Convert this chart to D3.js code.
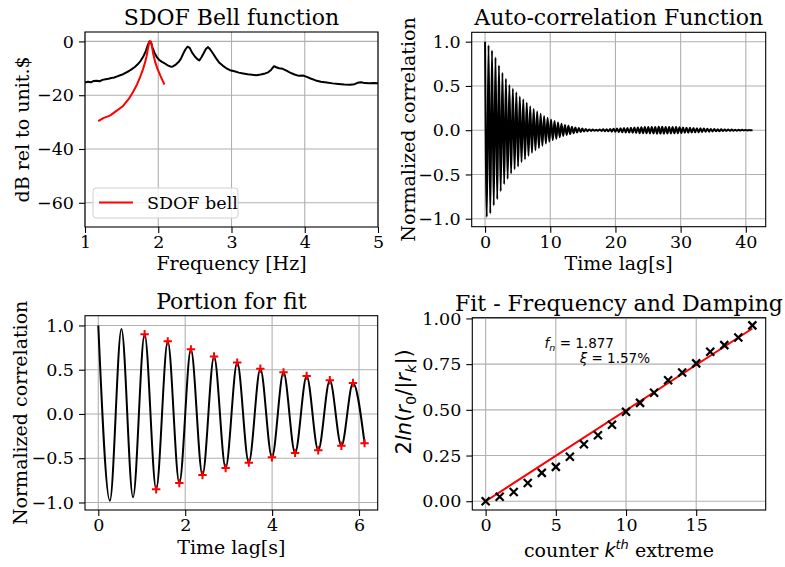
<!DOCTYPE html>
<html lang="en">
<head>
<meta charset="utf-8">
<title>SDOF bell / auto-correlation damping fit</title>
<script src="https://d3js.org/d3.v7.min.js"></script>
<style>
  body { margin: 0; background: #fff; }
  svg text { font-family: "DejaVu Serif", serif; fill: #000; }
  .tick line { stroke: #000; stroke-width: 1.1; }
  .tick text { font-size: 17.5px; }
  .grid line { stroke: #b0b0b0; stroke-width: 1.1; }
  .frame { fill: none; stroke: #000; stroke-width: 1.1; }
  .title { font-size: 22px; }
  .label { font-size: 19px; }
</style>
</head>
<body>
<svg></svg>
<script>

// ---- data ----

// SDOF bell panel: measured spectrum (black) and fitted bell (red)
var specFreq = [1.00, 1.04, 1.08, 1.12, 1.16, 1.20, 1.24, 1.28, 1.32, 1.36, 1.40, 1.44, 1.48, 1.52, 1.56,
  1.60, 1.64, 1.68, 1.72, 1.76, 1.80, 1.83, 1.86, 1.88, 1.90, 1.92, 1.95, 1.98, 2.01, 2.05, 2.09, 2.13,
  2.17, 2.20, 2.24, 2.28, 2.31, 2.34, 2.37, 2.40, 2.43, 2.46, 2.50, 2.53, 2.56, 2.59, 2.62, 2.65, 2.68,
  2.71, 2.75, 2.79, 2.83, 2.88, 2.93, 2.98, 3.04, 3.10, 3.16, 3.22, 3.28, 3.34, 3.40, 3.46, 3.50, 3.54,
  3.58, 3.61, 3.65, 3.70, 3.75, 3.80, 3.86, 3.92, 3.98, 4.02, 4.08, 4.15, 4.22, 4.30, 4.38, 4.46, 4.54,
  4.62, 4.68, 4.72, 4.77, 4.82, 4.88, 4.94, 5.00];
var specDb = [-15.3, -15.0, -15.2, -14.7, -14.6, -14.8, -14.3, -14.1, -13.9, -13.6, -13.4, -13.0, -12.6, -12.2, -11.6,
  -11.0, -10.3, -9.5, -8.5, -7.2, -5.4, -3.6, -1.2, 0.0, -0.3, -2.2, -4.3, -5.8, -6.8, -7.6, -8.2, -8.9,
  -9.4, -9.3, -8.6, -7.6, -6.4, -4.6, -3.0, -1.9, -2.4, -4.1, -5.6, -6.5, -7.1, -5.9, -4.4, -2.8, -2.1,
  -3.0, -4.6, -6.3, -7.8, -9.0, -10.0, -10.7, -11.1, -11.6, -11.9, -12.2, -12.4, -12.6, -12.3, -11.9, -11.5, -10.6,
  -9.2, -9.6, -10.0, -10.2, -10.9, -11.6, -12.3, -12.8, -12.7, -13.1, -13.8, -14.5, -15.0, -15.3, -15.6, -15.8, -16.0,
  -16.1, -15.9, -15.4, -15.2, -15.5, -15.6, -15.5, -15.6];

var bellFreq = [1.18, 1.25, 1.34, 1.42, 1.52, 1.60, 1.66, 1.71, 1.75, 1.79, 1.82, 1.84, 1.86, 1.875, 1.885,
  1.90, 1.915, 1.93, 1.96, 1.99, 2.03, 2.06, 2.085];
var bellDb = [-29.6, -28.5, -27.6, -26.0, -24.0, -21.3, -18.6, -16.0, -13.5, -10.5, -7.8, -5.6, -2.6, -0.5, 0.0,
  0.0, -1.8, -4.5, -7.8, -10.2, -12.8, -14.6, -16.0];

// auto-correlation: successive extremes, one every half period
var acfLagStep = 0.2664;
var acfExtremes = [1.00, -0.98, 0.96, -0.94, 0.90, -0.85, 0.82, -0.78, 0.73, -0.69, 0.65, -0.61, 0.58, -0.55,
  0.51, -0.49, 0.47, -0.44, 0.43, -0.41, 0.38, -0.36, 0.35, -0.33,
  0.31, -0.29, 0.27, -0.255, 0.24, -0.225, 0.21, -0.20, 0.185, -0.175,
  0.16, -0.15, 0.14, -0.13, 0.12, -0.112, 0.104, -0.096, 0.088, -0.08,
  0.073, -0.066, 0.06, -0.054, 0.049, -0.044, 0.039, -0.035, 0.031, -0.027,
  0.024, -0.021, 0.018, -0.015, 0.013, -0.011, 0.009, -0.008, 0.007, -0.006,
  0.006, -0.007, 0.008, -0.009, 0.010, -0.011, 0.012, -0.013, 0.015, -0.016,
  0.017, -0.018, 0.020, -0.021, 0.022, -0.023, 0.024, -0.025, 0.026, -0.027,
  0.028, -0.029, 0.030, -0.031, 0.032, -0.033, 0.033, -0.034, 0.035, -0.035,
  0.036, -0.036, 0.037, -0.037, 0.037, -0.038, 0.038, -0.038, 0.038, -0.038,
  0.037, -0.037, 0.037, -0.036, 0.036, -0.035, 0.035, -0.034, 0.033, -0.032,
  0.031, -0.030, 0.029, -0.028, 0.027, -0.026, 0.025, -0.024, 0.023, -0.022,
  0.021, -0.020, 0.019, -0.018, 0.017, -0.016, 0.015, -0.014, 0.014, -0.013,
  0.012, -0.011, 0.011, -0.010, 0.009, -0.009, 0.008, -0.007, 0.007, -0.006,
  0.006, -0.005, 0.005, -0.004, 0.004, -0.003, 0.003, -0.002, 0.002, -0.001,
  0.000];

// portion used for the fit (extreme indices) and the picked extremes
var portionEnd = 23;
var pickStart = 4;

// fit panel
var fitCounter = [0, 1, 2, 3, 4, 5, 6, 7, 8, 9, 10, 11, 12, 13, 14, 15, 16, 17, 18, 19];
var fitValue = [0.00, 0.024, 0.051, 0.100, 0.155, 0.188, 0.243, 0.312, 0.361, 0.418,
  0.489, 0.538, 0.593, 0.662, 0.704, 0.754, 0.818, 0.854, 0.896, 0.962];
var fitLineK = [0, 19];
var fitLineV = [0.0, 0.945];
var fnValue = "1.877";
var xiValue = "1.57%";

// tick values
var bellXTicks = [1, 2, 3, 4, 5];
var bellYTicks = [0, -20, -40, -60];
var acfXTicks = [0, 10, 20, 30, 40];
var corrYTicks = [-1.0, -0.5, 0.0, 0.5, 1.0];
var portionXTicks = [0, 2, 4, 6];
var fitXTicks = [0, 5, 10, 15];
var fitYTicks = [0.00, 0.25, 0.50, 0.75, 1.00];

// ---- layout ----

var w = 785, h = 567;
var svg = d3.select("svg").attr("width", w).attr("height", h);

function panel(id, box, xDom, yDom, xTicks, yTicks, xFmt, yFmt) {
  var x = d3.scaleLinear().domain(xDom).range([box.left, box.right]);
  var y = d3.scaleLinear().domain(yDom).range([box.bottom, box.top]);
  var g = svg.append("g").attr("id", id);

  g.append("clipPath").attr("id", id + "-clip")
    .append("rect")
      .attr("x", box.left).attr("y", box.top)
      .attr("width", box.right - box.left).attr("height", box.bottom - box.top);

  var grid = g.append("g").attr("class", "grid");
  grid.selectAll(".gx").data(xTicks).enter().append("line")
      .attr("x1", d => x(d)).attr("x2", d => x(d))
      .attr("y1", box.top).attr("y2", box.bottom);
  grid.selectAll(".gy").data(yTicks).enter().append("line")
      .attr("x1", box.left).attr("x2", box.right)
      .attr("y1", d => y(d)).attr("y2", d => y(d));

  var plot = g.append("g").attr("clip-path", "url(#" + id + "-clip)");
  var top = g.append("g");

  top.append("g")
      .attr("transform", `translate(0, ${box.bottom})`)
      .call(d3.axisBottom(x).tickValues(xTicks).tickFormat(xFmt).tickSize(6).tickPadding(3).tickSizeOuter(0))
      .call(s => s.select(".domain").remove());
  top.append("g")
      .attr("transform", `translate(${box.left}, 0)`)
      .call(d3.axisLeft(y).tickValues(yTicks).tickFormat(yFmt).tickSize(6).tickPadding(5).tickSizeOuter(0))
      .call(s => s.select(".domain").remove());

  top.append("rect").attr("class", "frame")
      .attr("x", box.left).attr("y", box.top)
      .attr("width", box.right - box.left).attr("height", box.bottom - box.top);

  return {x: x, y: y, plot: plot, top: top, box: box};
}

function titles(p, title, xlab, xlabDy, ylab, ylabDx) {
  var b = p.box;
  p.top.append("text").attr("class", "title")
      .attr("x", (b.left + b.right) / 2).attr("y", b.top - 7)
      .attr("text-anchor", "middle").text(title);
  if (xlab) {
    p.top.append("text").attr("class", "label")
        .attr("x", (b.left + b.right) / 2).attr("y", b.bottom + xlabDy)
        .attr("text-anchor", "middle").text(xlab);
  }
  if (ylab) {
    p.top.append("text").attr("class", "label")
        .attr("transform", `translate(${b.left - ylabDx}, ${(b.top + b.bottom) / 2}) rotate(-90)`)
        .attr("text-anchor", "middle").text(ylab);
  }
}

var fmtInt = d3.format("d");
var fmt1 = d3.format(".1f");
var fmt2 = d3.format(".2f");

// ---- SDOF Bell function ----
var p1 = panel("bell", {left: 85, right: 378, top: 32, bottom: 227},
  [1, 5], [-69, 3.5], bellXTicks, bellYTicks, fmtInt, fmtInt);
titles(p1, "SDOF Bell function", "Frequency [Hz]", 43, "dB rel to unit.$", 56);

var specLine = d3.line().x(d => p1.x(d[0])).y(d => p1.y(d[1]));
p1.plot.append("path")
    .attr("d", specLine(d3.zip(specFreq, specDb)))
    .attr("fill", "none").attr("stroke", "#000").attr("stroke-width", 2).attr("stroke-linejoin", "round");
p1.plot.append("path")
    .attr("d", specLine(d3.zip(bellFreq, bellDb)))
    .attr("fill", "none").attr("stroke", "red").attr("stroke-width", 2).attr("stroke-linejoin", "round");

var lg = p1.top.append("g").attr("transform", `translate(${p1.box.left + 8}, ${p1.box.bottom - 39})`);
lg.append("rect").attr("width", 145).attr("height", 30).attr("rx", 3)
    .attr("fill", "#fff").attr("fill-opacity", 0.8).attr("stroke", "#d0d0d0");
lg.append("line").attr("x1", 6).attr("x2", 40).attr("y1", 14.5).attr("y2", 14.5)
    .attr("stroke", "red").attr("stroke-width", 2);
lg.append("text").attr("x", 54).attr("y", 20.5).style("font-size", "17.5px").text("SDOF bell");

// ---- Auto-correlation Function ----
var acfT = acfExtremes.map((v, i) => i * acfLagStep);
var p2 = panel("acf", {left: 471.7, right: 765.7, top: 32.3, bottom: 226.7},
  [-2.05, 43.05], [-1.09, 1.106], acfXTicks, corrYTicks, fmtInt, fmt1);
titles(p2, "Auto-correlation Function", "Time lag[s]", 43, "Normalized correlation", 57);

var corrLine = function (p) {
  return d3.line().curve(d3.curveMonotoneX).x(d => p.x(d[0])).y(d => p.y(d[1]));
};
p2.plot.append("path")
    .attr("d", corrLine(p2)(d3.zip(acfT, acfExtremes)))
    .attr("fill", "none").attr("stroke", "#000").attr("stroke-width", 2);

// ---- Portion for fit ----
var p3 = panel("portion", {left: 85, right: 377.7, top: 315.7, bottom: 510},
  [-0.306, 6.43], [-1.085, 1.11], portionXTicks, corrYTicks, fmtInt, fmt1);
titles(p3, "Portion for fit", "Time lag[s]", 44, "Normalized correlation", 58);

var portion = d3.zip(acfT, acfExtremes).slice(0, portionEnd + 1);
p3.plot.append("path")
    .attr("d", corrLine(p3)(portion))
    .attr("fill", "none").attr("stroke", "#000").attr("stroke-width", 2);

var picks = portion.slice(pickStart);
p3.top.selectAll(".pick").data(picks).enter().append("path")
    .attr("class", "pick")
    .attr("transform", d => `translate(${p3.x(d[0])}, ${p3.y(d[1])})`)
    .attr("d", "M-4.2,0H4.2M0,-4.2V4.2")
    .attr("stroke", "red").attr("stroke-width", 2).attr("fill", "none");

// ---- Fit - Frequency and Damping ----
var p4 = panel("fit", {left: 472.3, right: 765.7, top: 317.7, bottom: 510},
  [-0.95, 19.95], [-0.048, 1.004], fitXTicks, fitYTicks, fmtInt, fmt2);
titles(p4, "Fit - Frequency and Damping", null, 0, null, 0);

p4.plot.append("path")
    .attr("d", d3.line().x(d => p4.x(d[0])).y(d => p4.y(d[1]))(d3.zip(fitLineK, fitLineV)))
    .attr("fill", "none").attr("stroke", "red").attr("stroke-width", 2);

p4.top.selectAll(".mk").data(d3.zip(fitCounter, fitValue)).enter().append("path")
    .attr("class", "mk")
    .attr("transform", d => `translate(${p4.x(d[0])}, ${p4.y(d[1])})`)
    .attr("d", "M-4,-4L4,4M-4,4L4,-4")
    .attr("stroke", "#000").attr("stroke-width", 2.2).attr("fill", "none");

// annotation
var ann1 = p4.top.append("text").attr("x", p4.x(4.2)).attr("y", p4.y(0.836))
    .style("font-family", "DejaVu Sans").style("font-size", "13.5px");
ann1.append("tspan").style("font-style", "italic").text("f");
ann1.append("tspan").style("font-style", "italic").style("font-size", "9.5px").attr("dy", 3).text("n");
ann1.append("tspan").attr("dy", -3).text(" = " + fnValue);
var ann2 = p4.top.append("text").attr("x", p4.x(6.7)).attr("y", p4.y(0.754))
    .style("font-family", "DejaVu Sans").style("font-size", "13.5px");
ann2.append("tspan").style("font-style", "italic").text("ξ");
ann2.append("tspan").text(" = " + xiValue);

// x label with superscript
var xl = p4.top.append("text").attr("class", "label")
    .attr("x", (p4.box.left + p4.box.right) / 2).attr("y", p4.box.bottom + 46.5)
    .attr("text-anchor", "middle");
xl.append("tspan").text("counter ");
xl.append("tspan").style("font-family", "DejaVu Sans").style("font-style", "italic").text("k");
xl.append("tspan").style("font-family", "DejaVu Sans").style("font-style", "italic")
    .style("font-size", "13px").attr("dy", -8).text("th");
xl.append("tspan").attr("dy", 8).text(" extreme");

// y label with subscripts
var yl = p4.top.append("text")
    .attr("transform", `translate(${p4.box.left - 61}, ${(p4.box.top + p4.box.bottom) / 2 - 12}) rotate(-90)`)
    .attr("text-anchor", "middle")
    .style("font-family", "DejaVu Sans").style("font-size", "21px");
yl.append("tspan").text("2");
yl.append("tspan").style("font-style", "italic").text("ln");
yl.append("tspan").text("(");
yl.append("tspan").style("font-style", "italic").text("r");
yl.append("tspan").style("font-size", "14.5px").attr("dy", 5).text("0");
yl.append("tspan").attr("dy", -5).text("/|");
yl.append("tspan").style("font-style", "italic").text("r");
yl.append("tspan").style("font-style", "italic").style("font-size", "14.5px").attr("dy", 5).text("k");
yl.append("tspan").attr("dy", -5).text("|)");

</script>
</body>
</html>
